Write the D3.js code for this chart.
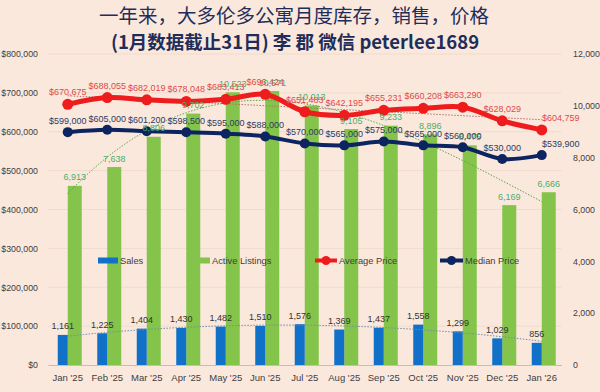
<!DOCTYPE html>
<html lang="zh">
<head>
<meta charset="UTF-8">
<title>大多伦多公寓月度库存，销售，价格</title>
<script src="https://d3js.org/d3.v7.min.js"></script>
<style>
  body{margin:0;background:#fbe8dc;}
  svg{display:block;font-family:"Liberation Sans",Arial,sans-serif;}
  .title{font-family:"Noto Sans CJK SC",sans-serif;fill:#1f2d5a;text-anchor:middle;}
  .axis text{fill:#404040;font-size:8.8px;}
</style>
</head>
<body>
<div id="chart"></div>
<script>
// chart data
var months = ["Jan '25","Feb '25","Mar '25","Apr '25","May '25","Jun '25","Jul '25","Aug '25","Sep '25","Oct '25","Nov '25","Dec '25","Jan '26"];
var sales = [1161,1225,1404,1430,1482,1510,1576,1369,1437,1558,1299,1029,856];
var listings = [6913,7638,8806,9702,10523,10571,10013,9105,9233,8896,8475,6169,6666];
var avgPrice = [670675,688055,682019,678048,683413,696424,651483,642195,655231,660208,663290,628029,604759];
var medianPrice = [599000,605000,601200,598500,595000,588000,570000,565000,575000,565000,560000,530000,539900];
var priceTicks = [0,100000,200000,300000,400000,500000,600000,700000,800000];
var countTicks = [0,2000,4000,6000,8000,10000,12000];

var width = 600, height = 392;
var plotLeft = 48, plotRight = 561.5, plotTop = 54, plotBottom = 365;

var svg = d3.select("#chart").append("svg")
    .attr("width", width)
    .attr("height", height);

svg.append("rect").attr("width", width).attr("height", height).attr("fill", "#fbe8dc");

var x = d3.scaleBand().domain(months).range([plotLeft, plotRight]);
var cx = function(i){ return x(months[i]) + x.bandwidth() / 2; };
var yPrice = d3.scaleLinear().domain([0, 800000]).range([plotBottom, plotTop]);
var yCount = d3.scaleLinear().domain([0, 12000]).range([plotBottom, plotTop]);
var money = function(d){ return "$" + d3.format(",")(d); };

// gridlines
svg.append("g").selectAll("line")
    .data(priceTicks.slice(1))
    .join("line")
    .attr("x1", plotLeft).attr("x2", plotRight)
    .attr("y1", function(d){ return yPrice(d); })
    .attr("y2", function(d){ return yPrice(d); })
    .attr("stroke", "#f0dbce");

// axes
var gl = svg.append("g").attr("class", "axis")
    .attr("transform", "translate(" + plotLeft + ",0)")
    .call(d3.axisLeft(yPrice).tickValues(priceTicks).tickFormat(money).tickSize(0).tickPadding(10));
gl.select(".domain").remove();

var gr = svg.append("g").attr("class", "axis")
    .attr("transform", "translate(" + plotRight + ",0)")
    .call(d3.axisRight(yCount).tickValues(countTicks).tickFormat(d3.format(",")).tickSize(0).tickPadding(11.5));
gr.select(".domain").remove();

var gb = svg.append("g").attr("class", "axis")
    .attr("transform", "translate(0," + plotBottom + ")")
    .call(d3.axisBottom(x).tickSize(0).tickPadding(9));
gb.select(".domain").attr("stroke", "#bfbfbf");
gb.selectAll("text").style("font-size", "9.5px");

// bars
svg.append("g").selectAll("rect")
    .data(listings)
    .join("rect")
    .attr("x", function(d, i){ return cx(i); })
    .attr("width", 14)
    .attr("y", function(d){ return yCount(d); })
    .attr("height", function(d){ return plotBottom - yCount(d); })
    .attr("fill", "#84c44a");

svg.append("g").selectAll("rect")
    .data(sales)
    .join("rect")
    .attr("x", function(d, i){ return cx(i) - 10; })
    .attr("width", 10)
    .attr("y", function(d){ return yCount(d); })
    .attr("height", function(d){ return plotBottom - yCount(d); })
    .attr("fill", "#1170c8");

// least squares trendline
function polyfit(ys, order){
    var n = order + 1, A = [], b = [];
    for (var r = 0; r < n; r++){ A.push(new Array(n).fill(0)); b.push(0); }
    ys.forEach(function(y, i){
        for (var r = 0; r < n; r++){
            b[r] += y * Math.pow(i, r);
            for (var c = 0; c < n; c++) A[r][c] += Math.pow(i, r + c);
        }
    });
    for (var k = 0; k < n; k++){
        for (var r = k + 1; r < n; r++){
            var f = A[r][k] / A[k][k];
            for (var c = k; c < n; c++) A[r][c] -= f * A[k][c];
            b[r] -= f * b[k];
        }
    }
    var coef = new Array(n).fill(0);
    for (var k = n - 1; k >= 0; k--){
        var s = b[k];
        for (var c = k + 1; c < n; c++) s -= A[k][c] * coef[c];
        coef[k] = s / A[k][k];
    }
    return function(t){
        return coef.reduce(function(acc, cf, p){ return acc + cf * Math.pow(t, p); }, 0);
    };
}

function trend(ys, order, scale, color){
    var fit = polyfit(ys, order);
    var ts = d3.range(0, ys.length - 1 + 0.001, 0.1);
    svg.append("path")
        .attr("d", d3.line()
            .x(function(t){ return cx(0) + t * x.step(); })
            .y(function(t){ return scale(fit(t)); })(ts))
        .attr("fill", "none")
        .attr("stroke", color)
        .attr("stroke-width", 1)
        .attr("stroke-dasharray", "1.5,1.5");
}
trend(sales, 2, yCount, "#6f8fa8");
trend(listings, 3, yCount, "#5aa64a");
trend(avgPrice, 1, yPrice, "#b76a6a");

// price lines
function priceLine(values, color, w, r){
    svg.append("path")
        .datum(values)
        .attr("d", d3.line()
            .x(function(d, i){ return cx(i); })
            .y(function(d){ return yPrice(d); })
            .curve(d3.curveCatmullRom.alpha(0.5)))
        .attr("fill", "none")
        .attr("stroke", color)
        .attr("stroke-width", w);
    svg.append("g").selectAll("circle")
        .data(values)
        .join("circle")
        .attr("cx", function(d, i){ return cx(i); })
        .attr("cy", function(d){ return yPrice(d); })
        .attr("r", r)
        .attr("fill", color);
}
priceLine(avgPrice, "#ee1c1c", 5, 5.5);
priceLine(medianPrice, "#0c2460", 4, 5);

// data labels
function labels(values, fmt, yfn, xoff, dy, color, lastShift){
    svg.append("g").selectAll("text")
        .data(values)
        .join("text")
        .attr("x", function(d, i){ return cx(i) + xoff + (i == values.length - 1 ? lastShift : 0); })
        .attr("y", function(d){ return yfn(d) - dy; })
        .attr("text-anchor", "middle")
        .attr("font-size", "9px")
        .attr("fill", color)
        .text(fmt);
}
labels(sales, d3.format(","), yCount, -5, 5.5, "#333333", 0);
labels(listings, d3.format(","), yCount, 7, 5.5, "#4aae6b", 0);
labels(medianPrice, money, yPrice, 0, 8, "#2c3b63", 19);
labels(avgPrice, money, yPrice, 0, 9, "#dd4a4a", 19);

// legend
var legend = svg.append("g").attr("transform", "translate(0,260.5)");
legend.append("rect").attr("x", 98).attr("y", -3).attr("width", 20).attr("height", 6).attr("fill", "#1170c8");
legend.append("rect").attr("x", 190).attr("y", -3).attr("width", 20).attr("height", 6).attr("fill", "#84c44a");
legend.append("line").attr("x1", 315).attr("x2", 337).attr("stroke", "#ee1c1c").attr("stroke-width", 4);
legend.append("circle").attr("cx", 326).attr("r", 4.5).attr("fill", "#ee1c1c");
legend.append("line").attr("x1", 440).attr("x2", 463).attr("stroke", "#0c2460").attr("stroke-width", 4);
legend.append("circle").attr("cx", 451.5).attr("r", 4.5).attr("fill", "#0c2460");
[["Sales", 120], ["Active Listings", 212], ["Average Price", 339], ["Median Price", 465]].forEach(function(e){
    legend.append("text").attr("x", e[1]).attr("dy", "0.35em")
        .attr("font-size", "9.3px").attr("fill", "#404040").text(e[0]);
});

// title
svg.append("text").attr("class", "title")
    .attr("x", 294).attr("y", 23)
    .attr("font-size", "19.5px")
    .text("一年来，大多伦多公寓月度库存，销售，价格");
svg.append("text").attr("class", "title")
    .attr("x", 295).attr("y", 49)
    .attr("font-size", "18.5px")
    .attr("font-weight", "bold")
    .text("(1月数据截止31日) 李 郡 微信 peterlee1689");
</script>
</body>
</html>
